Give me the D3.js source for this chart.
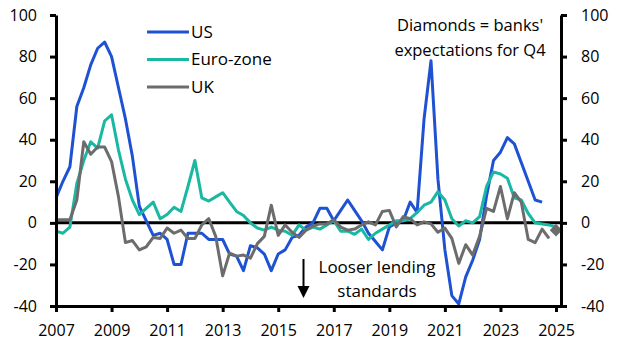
<!DOCTYPE html>
<html>
  <head>
    <meta charset="utf-8">
    <title>Bank lending standards</title>
    <script src="https://d3js.org/d3.v7.min.js"></script>
    <style>
      body { margin: 0; background: #fff; }
      text { font-family: "Open Sans", "Noto Sans", sans-serif; fill: #000; }
    </style>
  </head>
  <body>
    <div id="chart"></div>
    <script>
      // quarterly data, first point = 2007 Q1
      var startYear = 2007;
      var usValues = [12, 20, 27, 56, 65, 76, 84, 87, 80, 65, 50, 32, 8, 1, -6, -5, -8, -20, -20, -5,
        -5, -5, -8, -8, -8, -15, -16, -23, -11, -12, -15, -23, -15, -13, -7, -6, -2, 0, 7, 7,
        1, 6, 11, 6, 1, -5, -9, -13, -2, 0, 1, 10, 5, 50, 78, 21, -13, -35, -39, -26,
        -18, -8, 13, 30, 34, 41, 38, 29, 20, 11, 10];
      var euroValues = [-4, -5, -2, 19, 30, 39, 36, 49, 52, 35, 21, 11, 4, 7, 10, 2, 4, 7.5, 5.5, 17.5,
        30, 12, 10.5, 12.5, 14.5, 10, 5.5, 3.5, 0, -2.5, -3.5, -2, -3.5, -4, -6, -1, -3.5, -2, -3, -1,
        1, -4, -4, -5.5, -3, -8, -5, -3, -1, 1, 1, 2, 5, 8.5, 10, 15, 11, 2, -1.5, 1,
        0, 3, 17.5, 24.5, 23.5, 21.5, 12, 11, 4.5, 0, -0.5, -1, -2];
      var ukValues = [1.5, 1.5, 1.5, 11, 39, 33, 36.5, 36.5, 29.5, 12.5, -9.5, -8.5, -13, -11.5, -7, -7.5, -2.5, -5, -3.5, -7.5,
        -7.5, -1, 2, -6.5, -25.5, -14.5, -16, -15.5, -17, -10, -6.5, 8.5, -6, -1, -4.5, -7, -3.5, -1.5, -0.5, -0.5,
        1.5, -2, -3.5, -3, -1, 0.5, -1, 5.5, 6, -2, 3, 2, -1, 0.5, -0.5, -4.5, -2.5, -7.5, -19.5, -10.5,
        -15.5, -6.5, 7, 5.5, 17.5, 2, 14.5, 10, -8, -9.5, -3, -7.5];
      // banks' expectations for Q4 (UK)
      var diamondQuarter = 72;
      var diamondValue = -3.5;

      var seriesNames = ["US", "Euro-zone", "UK"];
      var seriesColors = ["#1f52d2", "#19b8a2", "#6c6c6c"];
      var yTicks = [-40, -20, 0, 20, 40, 60, 80, 100];
      var xTicks = [2007, 2009, 2011, 2013, 2015, 2017, 2019, 2021, 2023, 2025];

      var totalWidth = 621, totalHeight = 350;
      var margin = { top: 15, right: 60, bottom: 44, left: 56 };
      var width = totalWidth - margin.left - margin.right;
      var height = totalHeight - margin.top - margin.bottom;

      var svg = d3.select("#chart")
        .append("svg")
        .attr("width", totalWidth)
        .attr("height", totalHeight)
        .append("g")
        .attr("transform", "translate(" + margin.left + "," + margin.top + ")");

      var xScale = d3.scaleLinear().domain([2007, 2025.18]).range([0, width]);
      var yScale = d3.scaleLinear().domain([-40, 100]).range([height, 0]);

      function qx(i) { return xScale(startYear + i / 4); }

      // zero line
      svg.append("line")
        .attr("x1", 0).attr("x2", width)
        .attr("y1", yScale(0)).attr("y2", yScale(0))
        .attr("stroke", "#000").attr("stroke-width", 3);

      // series
      var allSeries = [usValues, euroValues, ukValues];
      var line = d3.line()
        .x(function(d, i) { return qx(i); })
        .y(function(d) { return yScale(d); });

      svg.selectAll("path.series")
        .data(allSeries)
        .enter()
        .append("path")
        .attr("class", "series")
        .attr("d", line)
        .attr("fill", "none")
        .attr("stroke", function(d, i) { return seriesColors[i]; })
        .attr("stroke-width", 3)
        .attr("stroke-linejoin", "round");

      // expectation diamond
      svg.append("path")
        .attr("d", d3.symbol().type(d3.symbolDiamond2).size(100))
        .attr("transform", "translate(" + qx(diamondQuarter) + "," + yScale(diamondValue) + ")")
        .attr("fill", seriesColors[2]);

      // axes
      var fmt = function(d) { return String(d); };
      var leftAxis = d3.axisLeft(yScale).tickValues(yTicks).tickFormat(fmt)
        .tickSize(6).tickSizeOuter(0).tickPadding(13);
      var rightAxis = d3.axisRight(yScale).tickValues(yTicks).tickFormat(fmt)
        .tickSize(6).tickSizeOuter(0).tickPadding(14);
      var bottomAxis = d3.axisBottom(xScale).tickValues(xTicks).tickFormat(fmt)
        .tickSize(6).tickSizeOuter(0).tickPadding(13);

      var gx = svg.append("g").attr("transform", "translate(0," + height + ")").call(bottomAxis);
      var gl = svg.append("g").call(leftAxis);
      var gr = svg.append("g").attr("transform", "translate(" + width + ",0)").call(rightAxis);

      [gx, gl, gr].forEach(function(g) {
        g.select(".domain").attr("stroke", "#000").attr("stroke-width", 3);
        g.selectAll(".tick line").attr("stroke", "#000").attr("stroke-width", 3);
        g.selectAll(".tick text")
          .attr("fill", "#000")
          .style("font-size", "16px")
          .style("font-family", "'Open Sans', 'Noto Sans', sans-serif");
      });

      // legend
      var legend = svg.append("g").attr("transform", "translate(" + (147 - margin.left) + "," + (32 - margin.top) + ")");
      var legendItems = legend.selectAll("g")
        .data(seriesNames)
        .enter()
        .append("g")
        .attr("transform", function(d, i) { return "translate(0," + i * 27.5 + ")"; });
      legendItems.append("line")
        .attr("x1", 0).attr("x2", 42)
        .attr("stroke", function(d, i) { return seriesColors[i]; })
        .attr("stroke-width", 3);
      legendItems.append("text")
        .text(function(d) { return d; })
        .attr("x", 44)
        .attr("dy", "0.35em")
        .style("font-size", "17px");

      // notes
      var note = svg.append("text")
        .attr("text-anchor", "middle")
        .style("font-size", "16.5px");
      note.append("tspan").attr("x", 470 - margin.left).attr("y", 31 - margin.top).text("Diamonds = banks'");
      note.append("tspan").attr("x", 470 - margin.left).attr("y", 56 - margin.top).text("expectations for Q4");

      var note2 = svg.append("text")
        .attr("text-anchor", "middle")
        .style("font-size", "17px");
      note2.append("tspan").attr("x", 377 - margin.left).attr("y", 273 - margin.top).text("Looser lending");
      note2.append("tspan").attr("x", 377 - margin.left).attr("y", 297 - margin.top).text("standards");

      // arrow
      var ax = 303.5 - margin.left;
      svg.append("line")
        .attr("x1", ax).attr("x2", ax)
        .attr("y1", 259 - margin.top).attr("y2", 289 - margin.top)
        .attr("stroke", "#000").attr("stroke-width", 2);
      svg.append("path")
        .attr("d", "M" + (ax - 6) + "," + (286 - margin.top) + "L" + (ax + 6) + "," + (286 - margin.top) + "L" + ax + "," + (298 - margin.top) + "Z")
        .attr("fill", "#000");
    </script>
  </body>
</html>
